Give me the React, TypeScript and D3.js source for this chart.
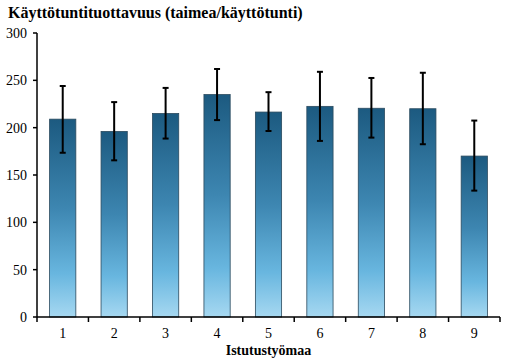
import React from "react";
import * as d3 from "d3";

const categories = ["1", "2", "3", "4", "5", "6", "7", "8", "9"];
const means = [209, 196, 215, 235, 216.5, 222.5, 220.5, 220, 170];
const upper = [244, 227, 242, 262, 237.5, 259, 252.5, 258, 207.5];
const lower = [173.5, 165.5, 188.5, 208, 196.5, 186, 189.5, 182.5, 133.5];
const yTicks = [0, 50, 100, 150, 200, 250, 300];
const title = "Käyttötuntituottavuus (taimea/käyttötunti)";
const xTitle = "Istutustyömaa";

const W = 507, H = 360;
const left = 37, right = 500, top = 33, bottom = 317;

export default function App() {
  const x = d3.scaleBand<string>().domain(categories).range([left, right]).paddingInner(0.49).paddingOuter(0.245);
  const y = d3.scaleLinear().domain([0, 300]).range([bottom, top]);
  const step = (right - left) / categories.length;
  const font = "Liberation Serif";
  return (
    <svg width={W} height={H} style={{ position: "absolute", left: 0, top: 0, fontFamily: "Liberation Serif, DejaVu Serif, serif" }}>
      <defs>
        <linearGradient id="barGrad" x1="0" y1="0" x2="0" y2="1">
          <stop offset="0" stopColor="#1c5a80" />
          <stop offset="0.45" stopColor="#3d86b1" />
          <stop offset="0.78" stopColor="#68b6df" />
          <stop offset="1" stopColor="#a6d8f1" />
        </linearGradient>
      </defs>
      <rect width={W} height={H} fill="#fff" />
      <text x={8} y={18} fontFamily={font} fontWeight="bold" fontSize={16} fill="#000">{title}</text>
      {categories.map((c, i) => (
        <rect key={c} x={x(c)} y={y(means[i])} width={x.bandwidth()} height={bottom - y(means[i])}
          fill="url(#barGrad)" stroke="#2b4a5e" strokeWidth={0.8} />
      ))}
      {categories.map((c, i) => {
        const cx = (x(c) as number) + x.bandwidth() / 2;
        return (
          <g key={"e" + c} stroke="#000" strokeWidth={2}>
            <line x1={cx} x2={cx} y1={y(upper[i])} y2={y(lower[i])} />
            <line x1={cx - 3} x2={cx + 3} y1={y(upper[i])} y2={y(upper[i])} />
            <line x1={cx - 3} x2={cx + 3} y1={y(lower[i])} y2={y(lower[i])} />
          </g>
        );
      })}
      <g stroke="#000" strokeWidth={1.5}>
        <line x1={left} x2={left} y1={top} y2={bottom} />
        <line x1={left} x2={right} y1={bottom} y2={bottom} />
        {yTicks.map(t => (
          <line key={"yt" + t} x1={left - 4} x2={left} y1={y(t)} y2={y(t)} />
        ))}
        {d3.range(categories.length + 1).map(i => (
          <line key={"xt" + i} x1={left + i * step} x2={left + i * step} y1={bottom} y2={bottom + 5} />
        ))}
      </g>
      {yTicks.map(t => (
        <text key={"yl" + t} x={27} y={y(t) + 5} textAnchor="end" fontFamily={font} fontSize={14} fill="#000">{t}</text>
      ))}
      {categories.map(c => (
        <text key={"xl" + c} x={(x(c) as number) + x.bandwidth() / 2} y={338} textAnchor="middle" fontFamily={font} fontSize={14} fill="#000">{c}</text>
      ))}
      <text x={(left + right) / 2} y={355} textAnchor="middle" fontFamily={font} fontWeight="bold" fontSize={14} fill="#000">{xTitle}</text>
    </svg>
  );
}
